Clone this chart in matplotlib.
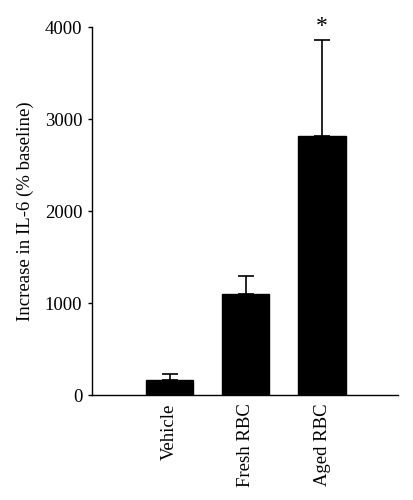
import matplotlib
matplotlib.use("Agg")
import matplotlib.pyplot as plt

groups = ["Vehicle", "Fresh RBC", "Aged RBC"]
values = [158, 1093, 2820]
errors = [74, 196, 1039]
stars = ["", "", "*"]

plt.rcParams['font.family'] = ['Liberation Serif', 'DejaVu Serif']

fig = plt.figure(figsize=(4.13, 5.0), dpi=100)
ax = fig.add_axes([0.223, 0.21, 0.741, 0.736])

x = list(range(len(groups)))
ax.bar(x, values, width=0.62, color='black', edgecolor='black', zorder=2)
ax.errorbar(x, values, yerr=[[0] * len(errors), errors], fmt='none',
            ecolor='black', elinewidth=1.2, capsize=6, capthick=1.2, zorder=1)
for xi, v, e, s in zip(x, values, errors, stars):
    if s:
        ax.text(xi, v + e + 30, s, ha='center', va='bottom', fontsize=17)

ax.set_xlim(-1.02, 3.0)
ax.set_ylim(0, 4000)
ax.set_yticks([0, 1000, 2000, 3000, 4000])
ax.set_xticks(x)
ax.set_xticklabels(groups, rotation=90, fontsize=13.5)
ax.tick_params(axis='x', length=0, pad=6)
ax.tick_params(axis='y', direction='out', length=3, width=1, labelsize=13.5, pad=4)
ax.set_ylabel("Increase in IL-6 (% baseline)", fontsize=13.5, labelpad=8)

for side in ['top', 'right']:
    ax.spines[side].set_visible(False)
for side in ['left', 'bottom']:
    ax.spines[side].set_linewidth(1)

fig.savefig("out.png", dpi=100)
